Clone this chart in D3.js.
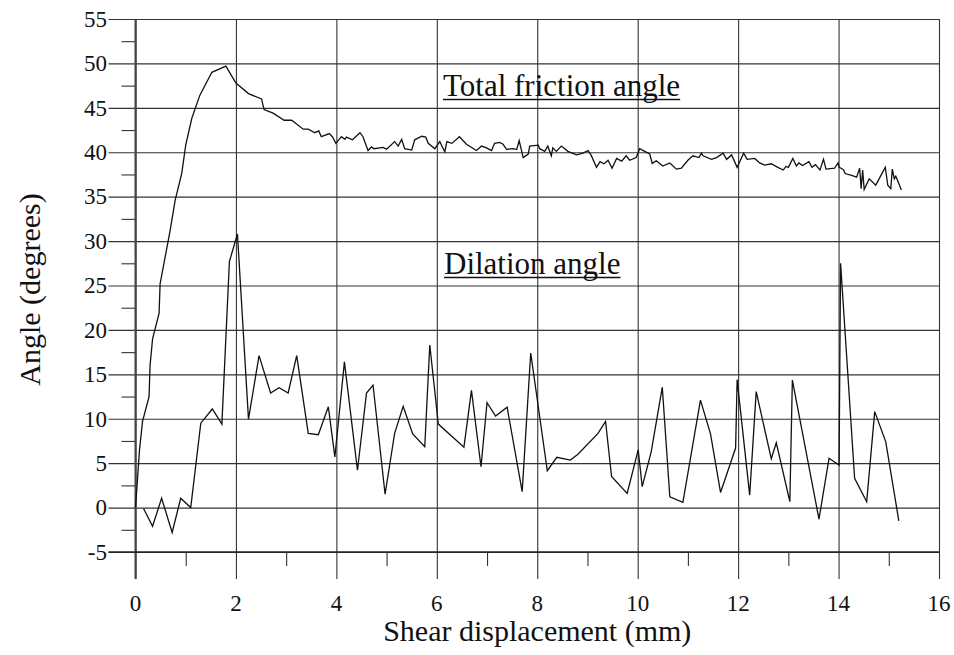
<!DOCTYPE html>
<html>
<head>
<meta charset="utf-8">
<script src="https://cdn.jsdelivr.net/npm/d3@7"></script>
</head>
<body style="margin:0;background:#fff">
<svg id="chart" width="954" height="655" style="display:block"></svg>
<script>
// Total friction angle (degrees) vs shear displacement (mm)
const frictionX = [0, 0.08, 0.14, 0.27, 0.29, 0.34, 0.47, 0.49, 0.69, 0.79, 0.92, 1.0, 1.12, 1.28, 1.52, 1.80, 2.0, 2.25, 2.51, 2.56, 2.74, 2.96, 3.11, 3.34, 3.44, 3.57, 3.65, 3.70, 3.86, 3.92, 3.99, 4.10, 4.17, 4.20, 4.32, 4.47, 4.53, 4.63, 4.70, 4.75, 4.93, 5.0, 5.16, 5.23, 5.30, 5.36, 5.50, 5.56, 5.70, 5.78, 5.83, 5.96, 6.06, 6.10, 6.16, 6.20, 6.30, 6.45, 6.59, 6.79, 6.89, 6.99, 7.09, 7.15, 7.25, 7.32, 7.39, 7.52, 7.59, 7.64, 7.72, 7.82, 7.85, 8.02, 8.05, 8.15, 8.21, 8.28, 8.31, 8.38, 8.48, 8.61, 8.78, 8.91, 9.01, 9.07, 9.18, 9.25, 9.33, 9.41, 9.49, 9.58, 9.68, 9.77, 9.84, 9.97, 10.04, 10.14, 10.24, 10.29, 10.37, 10.50, 10.64, 10.77, 10.87, 11.0, 11.10, 11.22, 11.27, 11.30, 11.47, 11.57, 11.70, 11.77, 11.87, 11.98, 12.11, 12.18, 12.33, 12.43, 12.53, 12.66, 12.79, 12.90, 12.95, 13.0, 13.09, 13.16, 13.21, 13.28, 13.41, 13.47, 13.54, 13.63, 13.70, 13.75, 13.92, 13.99, 14.01, 14.05, 14.10, 14.13, 14.26, 14.36, 14.42, 14.45, 14.48, 14.51, 14.61, 14.74, 14.93, 14.98, 15.04, 15.07, 15.11, 15.14, 15.17, 15.25];
const frictionY = [0, 6.5, 9.7, 12.5, 16.0, 19.0, 21.9, 25.2, 31.2, 34.6, 37.6, 40.8, 43.8, 46.4, 49.0, 49.7, 47.8, 46.6, 46.0, 44.8, 44.4, 43.6, 43.6, 42.6, 42.6, 42.2, 42.4, 41.75, 42.1, 41.75, 41.0, 41.75, 41.45, 41.7, 41.4, 42.2, 41.75, 40.2, 40.6, 40.4, 40.55, 40.35, 41.2, 40.7, 41.45, 40.4, 40.25, 41.4, 41.8, 41.7, 41.0, 40.4, 41.2, 40.7, 40.06, 41.2, 41.0, 41.75, 40.9, 40.2, 40.7, 40.5, 40.2, 41.0, 41.1, 40.9, 40.33, 40.4, 40.3, 41.3, 39.4, 39.8, 40.7, 40.8, 40.4, 40.1, 40.7, 39.6, 40.5, 40.1, 40.7, 40.1, 39.7, 39.9, 40.2, 39.7, 38.3, 38.95, 38.7, 39.1, 38.2, 39.3, 39.0, 39.6, 39.1, 39.4, 40.4, 40.1, 39.8, 38.75, 39.05, 38.45, 38.8, 38.1, 38.2, 39.1, 39.6, 39.4, 39.9, 39.6, 39.2, 39.4, 39.9, 39.2, 39.7, 38.3, 39.9, 39.2, 39.3, 38.8, 38.55, 38.7, 38.3, 38.0, 38.4, 38.3, 39.3, 38.45, 38.8, 38.5, 38.95, 38.3, 38.6, 38.0, 39.2, 38.1, 38.2, 38.8, 38.3, 38.2, 38.0, 37.6, 37.4, 37.2, 38.2, 35.9, 38.0, 35.8, 37.0, 36.3, 38.3, 36.3, 35.9, 38.1, 37.0, 37.3, 36.9, 35.75];

// Dilation angle (degrees) vs shear displacement (mm)
const dilationX = [0.16, 0.34, 0.52, 0.73, 0.90, 1.10, 1.30, 1.53, 1.72, 1.87, 2.03, 2.25, 2.46, 2.69, 2.86, 3.04, 3.21, 3.44, 3.64, 3.84, 3.97, 4.16, 4.42, 4.60, 4.73, 4.97, 5.16, 5.33, 5.52, 5.76, 5.86, 6.03, 6.54, 6.69, 6.88, 7.00, 7.17, 7.40, 7.70, 7.87, 8.20, 8.39, 8.66, 8.81, 9.21, 9.36, 9.48, 9.79, 10.01, 10.09, 10.27, 10.49, 10.64, 10.90, 11.25, 11.45, 11.65, 11.95, 11.98, 12.23, 12.36, 12.66, 12.76, 13.03, 13.08, 13.61, 13.81, 14.01, 14.04, 14.32, 14.56, 14.72, 14.94, 15.20];
const dilationY = [-0.1, -2.1, 1.05, -2.8, 1.05, 0.0, 9.5, 11.1, 9.4, 27.7, 30.8, 9.95, 17.1, 12.9, 13.5, 12.9, 17.1, 8.35, 8.2, 11.35, 5.7, 16.4, 4.2, 12.9, 13.8, 1.5, 8.35, 11.4, 8.3, 6.85, 18.3, 9.4, 6.8, 13.2, 4.6, 11.8, 10.3, 11.3, 1.8, 17.4, 4.15, 5.66, 5.35, 6.0, 8.35, 9.7, 3.5, 1.6, 6.5, 2.35, 6.3, 13.55, 1.2, 0.6, 12.1, 8.3, 1.7, 6.7, 14.4, 1.4, 13.05, 5.5, 7.3, 0.66, 14.35, -1.3, 5.55, 4.8, 27.5, 3.3, 0.66, 10.8, 7.4, -1.5];

const xMajorTicks = [0, 2, 4, 6, 8, 10, 12, 14, 16];
const xMinorTicks = [1, 3, 5, 7, 9, 11, 13, 15];
const yMajorTicks = [-5, 0, 5, 10, 15, 20, 25, 30, 35, 40, 45, 50, 55];
const yMinorTicks = [-2.5, 2.5, 7.5, 12.5, 17.5, 22.5, 27.5, 32.5, 37.5, 42.5, 47.5, 52.5];

const xTitle = "Shear displacement (mm)";
const yTitle = "Angle (degrees)";
const frictionLabel = "Total friction angle";
const dilationLabel = "Dilation angle";

const textFont = '"Liberation Serif"';
const ink = "#111";

const svg = d3.select("#chart");
const plot = { left: 135.5, right: 939, top: 19, bottom: 552 };

const x = d3.scaleLinear().domain([0, 16]).range([plot.left, plot.right]);
const y = d3.scaleLinear().domain([-5, 55]).range([plot.bottom, plot.top]);

const majorLen = 27, minorLen = 14;

// Horizontal grid lines, extended left past the axis as major ticks
svg.append("g")
  .attr("transform", `translate(${plot.right},0)`)
  .call(d3.axisLeft(y).tickValues(yMajorTicks).tickSize(plot.right - plot.left + majorLen).tickFormat(""))
  .call(g => g.select(".domain").remove())
  .call(g => g.selectAll("line").attr("stroke", "#333").attr("stroke-width", 1.1));

// Vertical grid lines, extended below the axis as major ticks
svg.append("g")
  .attr("transform", `translate(0,${plot.top})`)
  .call(d3.axisBottom(x).tickValues(xMajorTicks).tickSize(plot.bottom - plot.top + majorLen).tickFormat(""))
  .call(g => g.select(".domain").remove())
  .call(g => g.selectAll("line").attr("stroke", "#333").attr("stroke-width", 1.1));

// Minor ticks
svg.append("g")
  .attr("transform", `translate(${plot.left},0)`)
  .call(d3.axisLeft(y).tickValues(yMinorTicks).tickSize(minorLen).tickFormat(""))
  .call(g => g.select(".domain").remove())
  .call(g => g.selectAll("line").attr("stroke", "#333").attr("stroke-width", 1.1));
svg.append("g")
  .attr("transform", `translate(0,${plot.bottom})`)
  .call(d3.axisBottom(x).tickValues(xMinorTicks).tickSize(minorLen).tickFormat(""))
  .call(g => g.select(".domain").remove())
  .call(g => g.selectAll("line").attr("stroke", "#333").attr("stroke-width", 1.1));

// Axis lines
svg.append("line").attr("x1", plot.left).attr("x2", plot.left)
  .attr("y1", plot.top).attr("y2", plot.bottom + majorLen)
  .attr("stroke", "#444").attr("stroke-width", 2);
svg.append("line").attr("x1", plot.left - majorLen).attr("x2", plot.right)
  .attr("y1", plot.bottom).attr("y2", plot.bottom)
  .attr("stroke", "#222").attr("stroke-width", 1.3);

const labels = svg.append("g");

// Tick labels
labels.selectAll("text.ytick").data(yMajorTicks).join("text")
  .attr("class", "ytick")
  .attr("x", 107).attr("y", d => y(d)).attr("dy", "0.34em")
  .attr("text-anchor", "end").attr("fill", ink)
  .style("font-family", textFont).style("font-size", "23px")
  .text(d => d);
labels.selectAll("text.xtick").data(xMajorTicks).join("text")
  .attr("class", "xtick")
  .attr("x", d => x(d)).attr("y", 611)
  .attr("text-anchor", "middle").attr("fill", ink)
  .style("font-family", textFont).style("font-size", "23px")
  .text(d => d);

// Axis titles
labels.append("text").attr("x", (plot.left + plot.right) / 2).attr("y", 641)
  .attr("text-anchor", "middle").attr("fill", ink)
  .style("font-family", textFont).style("font-size", "30px")
  .text(xTitle);
labels.append("text").attr("transform", `translate(40,${(plot.top + plot.bottom) / 2 + 4}) rotate(-90)`)
  .attr("text-anchor", "middle").attr("fill", ink)
  .style("font-family", textFont).style("font-size", "30px")
  .text(yTitle);

// Data lines
const line = d3.line().x(d => x(d[0])).y(d => y(d[1]));
svg.append("path").datum(d3.zip(frictionX, frictionY))
  .attr("fill", "none").attr("stroke", ink).attr("stroke-width", 1.3)
  .attr("stroke-linejoin", "miter").attr("d", line);
svg.append("path").datum(d3.zip(dilationX, dilationY))
  .attr("fill", "none").attr("stroke", ink).attr("stroke-width", 1.3)
  .attr("stroke-linejoin", "miter").attr("d", line);

// Underlined series labels
function underlinedLabel(text, lx, ly) {
  const t = labels.append("text").attr("x", lx).attr("y", ly).attr("fill", ink)
    .style("font-family", textFont).style("font-size", "31px").text(text);
  const w = t.node().getComputedTextLength();
  svg.append("line").attr("x1", lx).attr("x2", lx + w)
    .attr("y1", ly + 3.5).attr("y2", ly + 3.5)
    .attr("stroke", ink).attr("stroke-width", 1.3);
}
underlinedLabel(frictionLabel, 443, 96);
underlinedLabel(dilationLabel, 444, 274);
</script>
</body>
</html>
